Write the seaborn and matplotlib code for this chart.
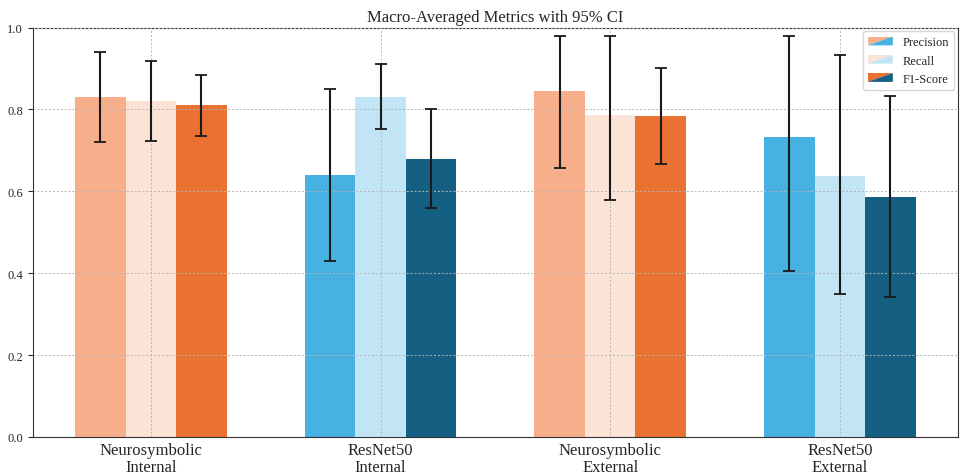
import numpy as np
import pandas as pd
import matplotlib
matplotlib.use("Agg")
import matplotlib.pyplot as plt
from matplotlib.legend_handler import HandlerBase
from matplotlib.patches import Polygon
import seaborn as sns

groups = ["Neurosymbolic\nInternal", "ResNet50\nInternal", "Neurosymbolic\nExternal", "ResNet50\nExternal"]
metrics = ["Precision", "Recall", "F1-Score"]

precision = [0.830, 0.640, 0.845, 0.733]
precision_lo = [0.720, 0.430, 0.658, 0.405]
precision_hi = [0.940, 0.850, 0.980, 0.980]

recall = [0.820, 0.830, 0.786, 0.638]
recall_lo = [0.722, 0.752, 0.580, 0.348]
recall_hi = [0.918, 0.910, 0.980, 0.932]

f1 = [0.810, 0.680, 0.783, 0.585]
f1_lo = [0.736, 0.559, 0.667, 0.342]
f1_hi = [0.884, 0.802, 0.902, 0.832]

orange = ["#F7AE8B", "#FBE3D6", "#E97132"]
blue = ["#47B1E1", "#C1E5F5", "#156082"]

sns.set_style("ticks")
plt.rcParams["font.family"] = ["Liberation Serif", "DejaVu Serif"]

df = pd.DataFrame({
    "group": np.repeat(groups, 3),
    "metric": metrics * 4,
    "value": np.ravel(np.column_stack([precision, recall, f1])),
    "lo": np.ravel(np.column_stack([precision_lo, recall_lo, f1_lo])),
    "hi": np.ravel(np.column_stack([precision_hi, recall_hi, f1_hi])),
})

fig, ax = plt.subplots(figsize=(9.6, 4.77), dpi=100)

bar_width = 0.22
sns.barplot(data=df, x="group", y="value", hue="metric", order=groups, hue_order=metrics,
            width=bar_width * 3, ax=ax, legend=False, saturation=1, errorbar=None)

# colour each bar by model family
for j, metric in enumerate(metrics):
    container = ax.containers[j]
    for i, patch in enumerate(container.patches):
        palette = orange if groups[i].startswith("Neuro") else blue
        patch.set_facecolor(palette[j])
        patch.set_edgecolor("none")
        row = df[(df.group == groups[i]) & (df.metric == metric)].iloc[0]
        xc = patch.get_x() + patch.get_width() / 2
        ax.errorbar(xc, row.value, yerr=[[row.value - row.lo], [row.hi - row.value]],
                    fmt="none", ecolor="#1a1a1a", elinewidth=1.5, capsize=4.5, capthick=1.3,
                    zorder=4)

# grid sits over the bars, as in the original
ax.set_axisbelow(False)
ax.grid(True, axis="both", linestyle=(0, (2, 2)), color="#b5b5b5", linewidth=0.7)


class SplitHandler(HandlerBase):
    def __init__(self, c1, c2):
        super().__init__()
        self.c1, self.c2 = c1, c2

    def create_artists(self, legend, orig_handle, xdescent, ydescent, width, height, fontsize, trans):
        x0, y0 = -xdescent, -ydescent
        t1 = Polygon([[x0, y0], [x0, y0 + height], [x0 + width, y0 + height]],
                     closed=True, facecolor=self.c1, edgecolor="none", transform=trans)
        t2 = Polygon([[x0, y0], [x0 + width, y0 + height], [x0 + width, y0]],
                     closed=True, facecolor=self.c2, edgecolor="none", transform=trans)
        return [t1, t2]


handles = [plt.Rectangle((0, 0), 1, 1) for _ in metrics]
handler_map = {h: SplitHandler(orange[k], blue[k]) for k, h in enumerate(handles)}
leg = ax.legend(handles, metrics, handler_map=handler_map, loc="upper right", fontsize=9,
                frameon=True, fancybox=True, borderaxespad=0.3)
leg.set_zorder(6)

ax.set_ylim(0, 1.0)
ax.set_xlim(-0.515, 3.515)
ax.set_yticks([0.0, 0.2, 0.4, 0.6, 0.8, 1.0])
ax.tick_params(axis="y", labelsize=9)
ax.tick_params(axis="x", labelsize=12, pad=4, length=0)
for lbl in ax.get_xticklabels():
    lbl.set_linespacing(1.08)
ax.set_xlabel("")
ax.set_ylabel("")
ax.set_title("Macro-Averaged Metrics with 95% CI", fontsize=12, pad=5)
for s in ax.spines.values():
    s.set_color("#333333")

plt.subplots_adjust(left=0.034, right=0.998, top=0.94, bottom=0.082)
plt.savefig("out.png", dpi=100)
